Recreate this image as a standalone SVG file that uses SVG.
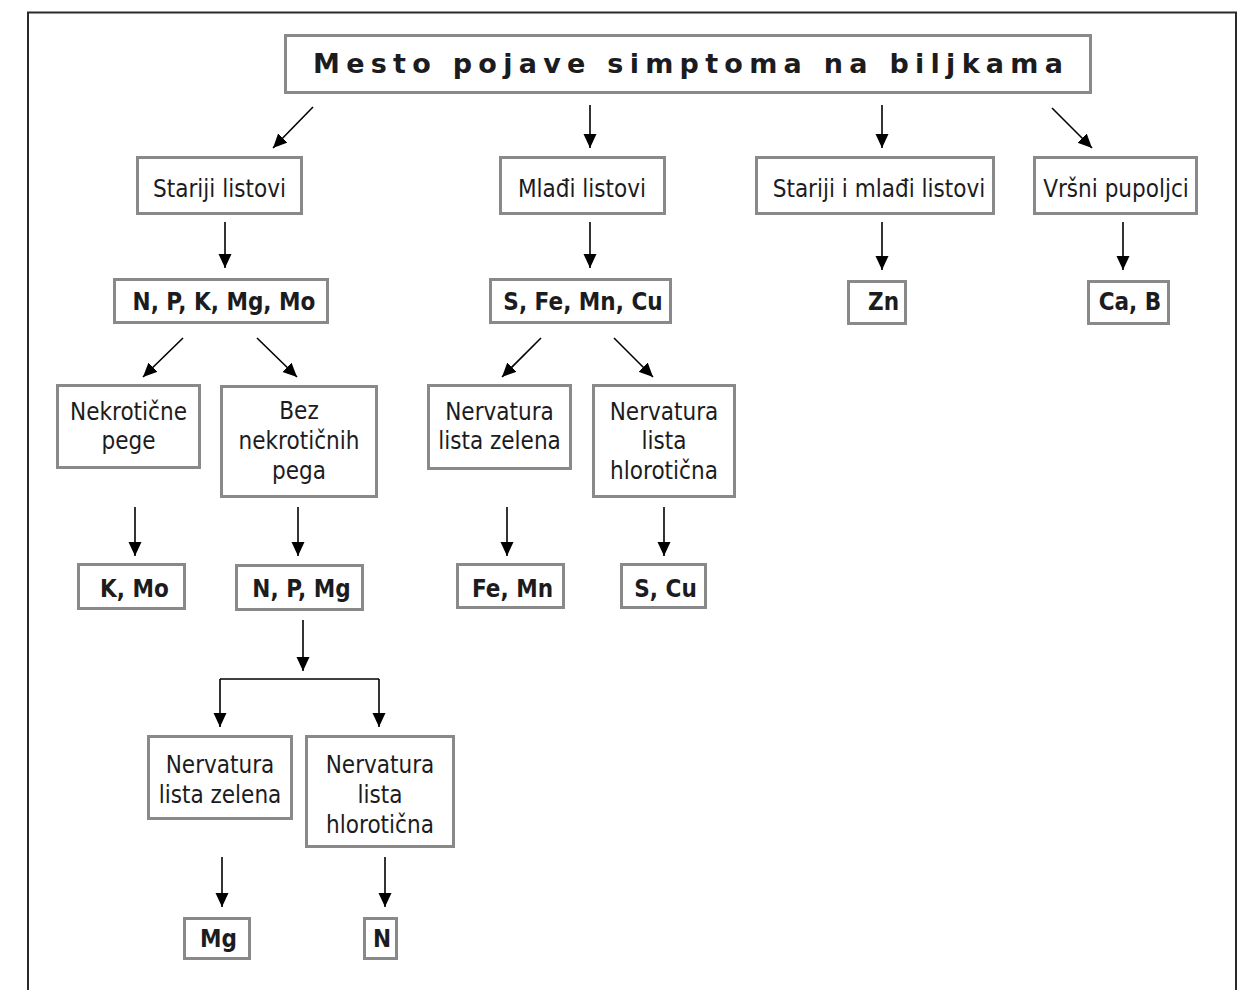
<svg xmlns="http://www.w3.org/2000/svg" width="1239" height="990" viewBox="0 0 1239 990">
<defs>
<style>
.box{fill:#fff;stroke:#898989;stroke-width:3}
.t{font-family:"DejaVu Sans",Verdana,sans-serif;font-size:25px;fill:#1c1c1e;text-anchor:middle}
.b{font-family:"DejaVu Sans",Verdana,sans-serif;font-size:24px;font-weight:bold;fill:#1c1c1e;text-anchor:middle}
.ttl{font-family:"DejaVu Sans",Verdana,sans-serif;font-size:27px;font-weight:bold;fill:#1c1c1e}
.ln{fill:none;stroke:#000;stroke-width:1.6}
.ar{fill:none;stroke:#000;stroke-width:1.6;marker-end:url(#ah)}
</style>
<marker id="ah" markerUnits="userSpaceOnUse" markerWidth="15" markerHeight="14" refX="14" refY="6.5" orient="auto">
<path d="M0,0 L14,6.5 L0,13 z" fill="#000"/>
</marker>
</defs>
<rect width="1239" height="990" fill="#fff"/>
<path d="M28,990 V12.5 H1236 V990" fill="none" stroke="#2a2a2a" stroke-width="2"/>

<g id="title">
<rect class="box" x="285.5" y="35.5" width="805" height="57"/>
<text class="ttl" x="313" y="73" textLength="750" lengthAdjust="spacing">Mesto pojave simptoma na biljkama</text>
</g>

<g id="stariji">
<rect class="box" x="137.5" y="157.5" width="164" height="56"/>
<text class="t" transform="matrix(0.864 0 0 1 219.5 0)" x="0" y="197">Stariji listovi</text>
</g>
<g id="mladji">
<rect class="box" x="500.5" y="157.5" width="164" height="56"/>
<text class="t" transform="matrix(0.864 0 0 1 582 0)" x="0" y="197">Mlađi listovi</text>
</g>
<g id="stariji-mladji">
<rect class="box" x="756.5" y="157.5" width="237" height="56"/>
<text class="t" transform="matrix(0.864 0 0 1 879 0)" x="0" y="197">Stariji i mlađi listovi</text>
</g>
<g id="vrsni">
<rect class="box" x="1034.5" y="157.5" width="162" height="56"/>
<text class="t" transform="matrix(0.864 0 0 1 1116 0)" x="0" y="197">Vršni pupoljci</text>
</g>

<g id="npkmgmo">
<rect class="box" x="114.5" y="279.5" width="213" height="43"/>
<text class="b" transform="matrix(0.9 0 0 1 224 0)" x="0" y="310">N, P, K, Mg, Mo</text>
</g>
<g id="sfemncu">
<rect class="box" x="490.5" y="279.5" width="180" height="43"/>
<text class="b" transform="matrix(0.9 0 0 1 583 0)" x="0" y="310">S, Fe, Mn, Cu</text>
</g>
<g id="zn">
<rect class="box" x="848.5" y="281.5" width="57" height="42"/>
<text class="b" transform="matrix(0.9 0 0 1 883.5 0)" x="0" y="310">Zn</text>
</g>
<g id="cab">
<rect class="box" x="1088.5" y="281.5" width="80" height="42"/>
<text class="b" transform="matrix(0.9 0 0 1 1130 0)" x="0" y="310">Ca, B</text>
</g>

<g id="nekroticne">
<rect class="box" x="57.5" y="385.5" width="142" height="82"/>
<text class="t" transform="matrix(0.864 0 0 1 128.5 0)" x="0" y="420">Nekrotične</text>
<text class="t" transform="matrix(0.864 0 0 1 128.5 0)" x="0" y="449">pege</text>
</g>
<g id="bez">
<rect class="box" x="221.5" y="386.5" width="155" height="110"/>
<text class="t" transform="matrix(0.864 0 0 1 299 0)" x="0" y="419">Bez</text>
<text class="t" transform="matrix(0.864 0 0 1 299 0)" x="0" y="449">nekrotičnih</text>
<text class="t" transform="matrix(0.864 0 0 1 299 0)" x="0" y="479">pega</text>
</g>
<g id="zelena1">
<rect class="box" x="428.5" y="385.5" width="142" height="83"/>
<text class="t" transform="matrix(0.864 0 0 1 499.5 0)" x="0" y="420">Nervatura</text>
<text class="t" transform="matrix(0.864 0 0 1 499.5 0)" x="0" y="449">lista zelena</text>
</g>
<g id="hloroticna1">
<rect class="box" x="593.5" y="385.5" width="141" height="111"/>
<text class="t" transform="matrix(0.864 0 0 1 664 0)" x="0" y="420">Nervatura</text>
<text class="t" transform="matrix(0.864 0 0 1 664 0)" x="0" y="449">lista</text>
<text class="t" transform="matrix(0.864 0 0 1 664 0)" x="0" y="479">hlorotična</text>
</g>

<g id="kmo">
<rect class="box" x="78.5" y="564.5" width="106" height="44"/>
<text class="b" transform="matrix(0.9 0 0 1 134.5 0)" x="0" y="597">K, Mo</text>
</g>
<g id="npmg">
<rect class="box" x="236.5" y="565.5" width="126" height="44"/>
<text class="b" transform="matrix(0.9 0 0 1 301.5 0)" x="0" y="597">N, P, Mg</text>
</g>
<g id="femn">
<rect class="box" x="457.5" y="564.5" width="106" height="43"/>
<text class="b" transform="matrix(0.9 0 0 1 512.5 0)" x="0" y="597">Fe, Mn</text>
</g>
<g id="scu">
<rect class="box" x="621.5" y="564.5" width="84" height="43"/>
<text class="b" transform="matrix(0.9 0 0 1 665.5 0)" x="0" y="597">S, Cu</text>
</g>

<g id="zelena2">
<rect class="box" x="148.5" y="736.5" width="143" height="82"/>
<text class="t" transform="matrix(0.864 0 0 1 220 0)" x="0" y="773">Nervatura</text>
<text class="t" transform="matrix(0.864 0 0 1 220 0)" x="0" y="803">lista zelena</text>
</g>
<g id="hloroticna2">
<rect class="box" x="306.5" y="736.5" width="147" height="110"/>
<text class="t" transform="matrix(0.864 0 0 1 380 0)" x="0" y="773">Nervatura</text>
<text class="t" transform="matrix(0.864 0 0 1 380 0)" x="0" y="803">lista</text>
<text class="t" transform="matrix(0.864 0 0 1 380 0)" x="0" y="833">hlorotična</text>
</g>

<g id="mg">
<rect class="box" x="184.5" y="918.5" width="65" height="40"/>
<text class="b" transform="matrix(0.9 0 0 1 218.5 0)" x="0" y="947">Mg</text>
</g>
<g id="n">
<rect class="box" x="364.5" y="918.5" width="32" height="40"/>
<text class="b" transform="matrix(0.9 0 0 1 382 0)" x="0" y="947">N</text>
</g>

<g id="connectors">
<path class="ar" d="M313,107 L273,148"/>
<path class="ar" d="M590,105 V148"/>
<path class="ar" d="M882,105 V148"/>
<path class="ar" d="M1052,108 L1092,148"/>
<path class="ar" d="M225,222 V268"/>
<path class="ar" d="M590,222 V268"/>
<path class="ar" d="M882,222 V270"/>
<path class="ar" d="M1123,222 V270"/>
<path class="ar" d="M183,338 L143,377"/>
<path class="ar" d="M257,338 L297,377"/>
<path class="ar" d="M541,338 L502,377"/>
<path class="ar" d="M614,338 L653,377"/>
<path class="ar" d="M135,507 V556"/>
<path class="ar" d="M298,507 V556"/>
<path class="ar" d="M507,507 V556"/>
<path class="ar" d="M664,507 V556"/>
<path class="ar" d="M303,620 V671"/>
<path class="ln" d="M220,679 H379"/>
<path class="ar" d="M220,679 V727"/>
<path class="ar" d="M379,679 V727"/>
<path class="ar" d="M222,857 V907"/>
<path class="ar" d="M385,857 V907"/>
</g>
</svg>
